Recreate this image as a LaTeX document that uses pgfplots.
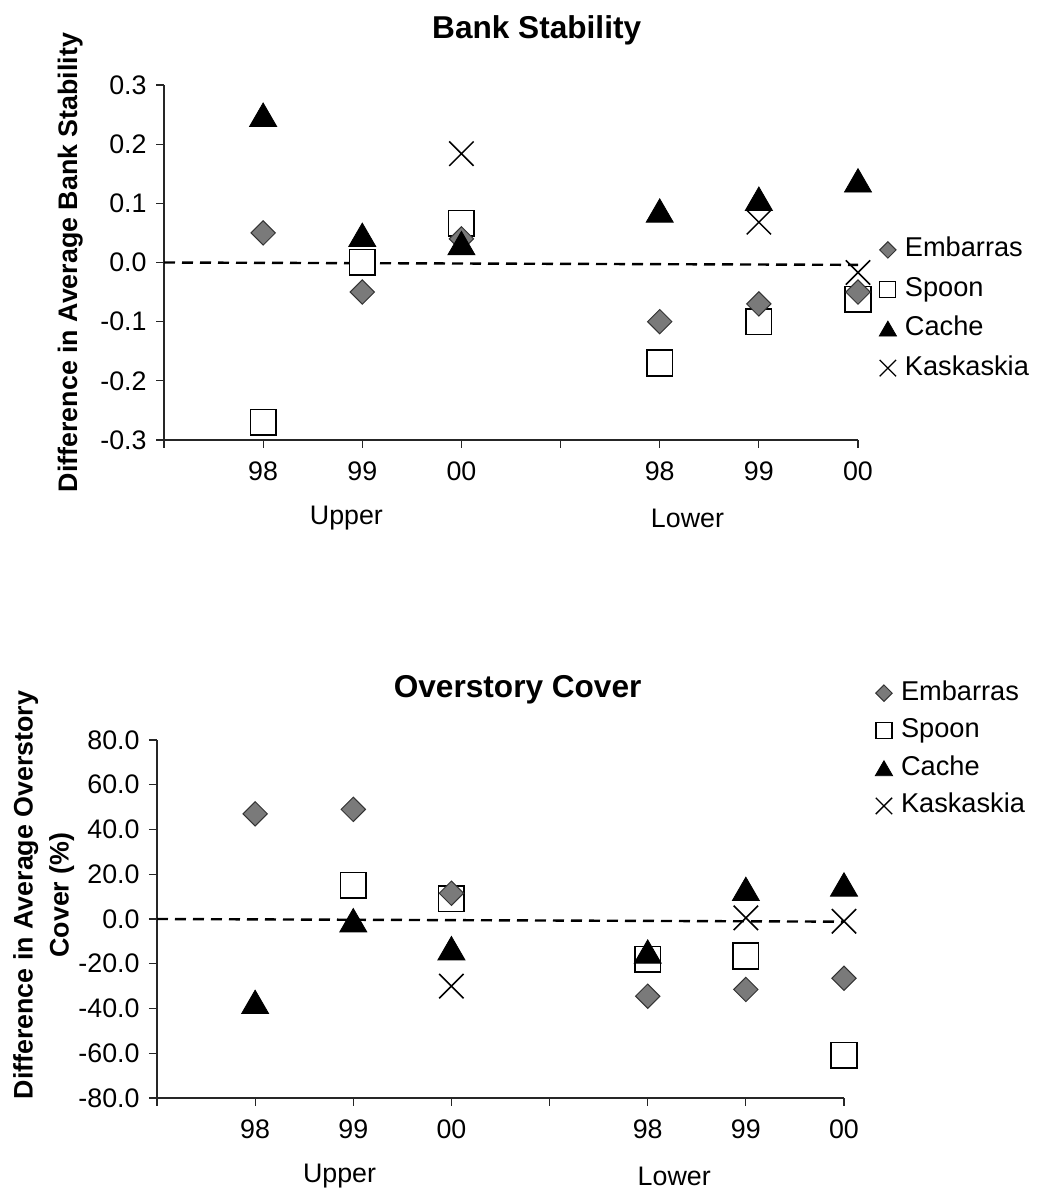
\documentclass[border=0pt]{standalone}
\usepackage{pgfplots}
\pgfplotsset{compat=1.18}
\usepackage{fontspec}
\setmainfont{Liberation Sans}
\definecolor{embgray}{RGB}{122,122,122}

\pgfplotstableread{
x y
1 0.05
2 -0.05
3 0.04
5 -0.10
6 -0.07
7 -0.05
}\bsEmb
\pgfplotstableread{
x y
1 -0.27
2 0.0
3 0.066
5 -0.17
6 -0.10
7 -0.062
}\bsSpo
\pgfplotstableread{
x y
1 0.25
2 0.047
3 0.033
5 0.088
6 0.108
7 0.139
}\bsCac
\pgfplotstableread{
x y
3 0.184
6 0.068
7 -0.017
}\bsKas

\pgfplotstableread{
x y
1 47
2 49
3 11.5
5 -34.5
6 -31.5
7 -26.5
}\ocEmb
\pgfplotstableread{
x y
2 15
3 9
5 -18
6 -16.5
7 -61
}\ocSpo
\pgfplotstableread{
x y
1 -37
2 -0.5
3 -13
5 -14.5
6 13.5
7 15.5
}\ocCac
\pgfplotstableread{
x y
3 -30
6 0.5
7 -1
}\ocKas

\pgfplotsset{
  mystyle/.style={
    scale only axis, clip=false,
    xmin=0, xmax=7,
    axis lines=left, axis line style={-, line width=0.6pt, black!85},
    xtick={0,1,2,3,4,5,6,7}, xticklabels={,98,99,00,,98,99,00},
    tick align=outside, major tick length=4pt,
    tick style={black!85, line width=0.6pt},
    ticklabel style={font=\fontsize{13.4}{15}\selectfont},
    xticklabel style={yshift=-3.5pt},
    yticklabel style={xshift=-1.2pt},
    /pgf/number format/assume math mode=true,
    legend cell align=left,
    legend image code/.code={\draw[##1] plot coordinates {(0pt,0pt)};},
    every axis title shift=0pt,
    title style={font=\bfseries\fontsize{15.8}{18}\selectfont, anchor=center, yshift=0pt},
    ylabel style={font=\bfseries\fontsize{13.4}{18}\selectfont, anchor=center, align=center},
  },
  embst/.style={only marks, mark=square*, mark options={rotate=45, fill=embgray, draw=black!80, line width=0.5pt}},
  spost/.style={only marks, mark=square*, mark options={fill=white, draw=black, line width=0.8pt}},
  cacst/.style={only marks, mark=triangle*, mark options={fill=black, draw=black}},
  kasst/.style={only marks, mark=x, mark options={draw=black, line width=0.75pt}},
  spoleg/.style={only marks, mark=square*, mark options={fill=white, draw=black, line width=0.6pt}},
  cacleg/.style={only marks, mark=triangle*, mark options={fill=black, draw=black, yshift=-1.2pt}},
  kasleg/.style={only marks, mark=x, mark options={draw=black, line width=0.65pt}},
  mylegend/.style={legend style={draw=none, fill=none, anchor=north west,
    font=\fontsize{13.6}{15}\selectfont, inner sep=0pt,
    nodes={inner sep=1.2pt, text height=10pt, text depth=3pt},
    /tikz/every odd column/.style={column sep=3pt}}},
}

\begin{document}
\begin{tikzpicture}
\useasboundingbox (0,0) rectangle (518.5pt,597.5pt);

\begin{axis}[mystyle, mylegend,
  at={(82pt,377.5pt)}, anchor=south west,
  width=347pt, height=177.5pt,
  ymin=-0.3, ymax=0.3,
  ytick={-0.3,-0.2,-0.1,0,0.1,0.2,0.3},
  yticklabels={-0.3,-0.2,-0.1,0.0,0.1,0.2,0.3},
  title={Bank Stability},
  title style={at={(axis description cs:0.537,1.155)}},
  ylabel={Difference in Average Bank Stability},
  ylabel style={at={(axis description cs:-0.135,0.5)}},
  legend style={at={(axis description cs:1.03,0.58)}, row sep=4.3pt},
]
\addlegendimage{embst, mark size=2.9pt}
\addlegendentry{Embarras}
\addlegendimage{spoleg, mark size=4.0pt}
\addlegendentry{Spoon}
\addlegendimage{cacleg, mark size=5pt}
\addlegendentry{Cache}
\addlegendimage{kasleg, mark size=5.8pt}
\addlegendentry{Kaskaskia}

\addplot[forget plot, black, line width=1.2pt, dash pattern=on 5.5pt off 3.5pt] coordinates {(0,0) (7,-0.004)};
\addplot[forget plot, spost, mark size=6.4pt] table[x=x,y=y] {\bsSpo};
\addplot[forget plot, embst, mark size=4.3pt] table[x=x,y=y] {\bsEmb};
\addplot[forget plot, kasst, mark size=8.6pt] table[x=x,y=y] {\bsKas};
\addplot[forget plot, cacst, mark size=7.8pt, mark options={yshift=-2pt}] table[x=x,y=y] {\bsCac};

\node[font=\fontsize{13.4}{15}\selectfont, anchor=center] at (axis cs:1.84,-0.3) [yshift=-39pt] {Upper};
\node[font=\fontsize{13.4}{15}\selectfont, anchor=center] at (axis cs:5.28,-0.3) [yshift=-39pt] {Lower};
\end{axis}

\begin{axis}[mystyle, mylegend,
  at={(78.5pt,48.5pt)}, anchor=south west,
  width=343.5pt, height=179pt,
  ymin=-80, ymax=80,
  ytick={-80,-60,-40,-20,0,20,40,60,80},
  yticklabels={-80.0,-60.0,-40.0,-20.0,0.0,20.0,40.0,60.0,80.0},
  title={Overstory Cover},
  title style={at={(axis description cs:0.525,1.14)}},
  ylabel={Difference in Average Overstory\\Cover (\%)},
  ylabel style={at={(axis description cs:-0.165,0.567)}},
  legend style={at={(axis description cs:1.045,1.175)}, row sep=3.4pt},
]
\addlegendimage{embst, mark size=2.9pt}
\addlegendentry{Embarras}
\addlegendimage{spoleg, mark size=4.0pt}
\addlegendentry{Spoon}
\addlegendimage{cacleg, mark size=5pt}
\addlegendentry{Cache}
\addlegendimage{kasleg, mark size=5.8pt}
\addlegendentry{Kaskaskia}

\addplot[forget plot, black, line width=1.2pt, dash pattern=on 5.5pt off 3.5pt] coordinates {(0,0) (7,-1.2)};
\addplot[forget plot, spost, mark size=6.4pt] table[x=x,y=y] {\ocSpo};
\addplot[forget plot, embst, mark size=4.3pt] table[x=x,y=y] {\ocEmb};
\addplot[forget plot, kasst, mark size=8.6pt] table[x=x,y=y] {\ocKas};
\addplot[forget plot, cacst, mark size=7.8pt, mark options={yshift=-2pt}] table[x=x,y=y] {\ocCac};

\node[font=\fontsize{13.4}{15}\selectfont, anchor=center] at (axis cs:1.86,-80) [yshift=-39pt] {Upper};
\node[font=\fontsize{13.4}{15}\selectfont, anchor=center] at (axis cs:5.27,-80) [yshift=-39pt] {Lower};
\end{axis}
\end{tikzpicture}
\end{document}
